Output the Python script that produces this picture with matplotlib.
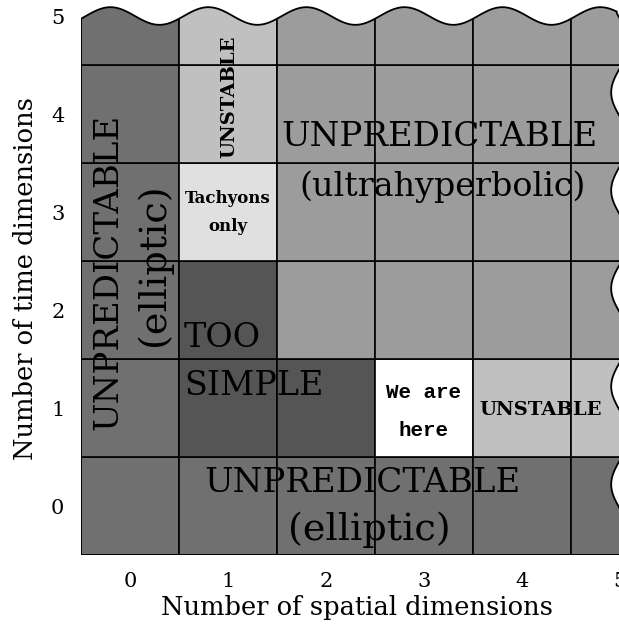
import numpy as np
import matplotlib
matplotlib.use('Agg')
import matplotlib.pyplot as plt
from matplotlib.patches import Rectangle, Polygon

# rows = number of time dimensions (0..5), columns = number of spatial dimensions (0..5)
space_dims = [0, 1, 2, 3, 4, 5]
time_dims = [0, 1, 2, 3, 4, 5]
regions = [
    ['ell', 'ell', 'ell', 'ell', 'ell', 'ell'],   # time 0
    ['ell', 'simple', 'simple', 'here', 'unstable', 'unstable'],   # time 1
    ['ell', 'simple', 'ultra', 'ultra', 'ultra', 'ultra'],   # time 2
    ['ell', 'tachyon', 'ultra', 'ultra', 'ultra', 'ultra'],   # time 3
    ['ell', 'unstable', 'ultra', 'ultra', 'ultra', 'ultra'],   # time 4
    ['ell', 'unstable', 'ultra', 'ultra', 'ultra', 'ultra'],   # time 5
]
region_colors = {
    'ell': '#707070',
    'simple': '#555555',
    'ultra': '#9c9c9c',
    'unstable': '#c0c0c0',
    'tachyon': '#e0e0e0',
    'here': '#ffffff',
}

W, H = 619, 627
fig = plt.figure(figsize=(W / 100, H / 100), dpi=100)
ax = fig.add_axes([81 / W, (H - 555) / H, 588 / W, 588 / H])
ax.set_xlim(-0.5, 5.5)
ax.set_ylim(-0.5, 5.5)
for s in ax.spines.values():
    s.set_visible(False)

# wavy "continues" edges at the top and at the right
ys = np.linspace(-0.5, 5.03, 300)
xr = 5.0 - 0.09 * np.cos(2 * np.pi * (ys - 0.22))
xs = np.linspace(xr[-1], -0.5, 300)
yt = 5.0 + 0.09 * np.cos(2 * np.pi * (xs + 0.2))
outline = [(-0.5, -0.5)] + list(zip(xr, ys)) + list(zip(xs, yt))
clip = Polygon(outline, closed=True, transform=ax.transData, fc='none', ec='none')
ax.add_patch(clip)

for j, t in enumerate(time_dims):
    for i, sp in enumerate(space_dims):
        r = Rectangle((sp - 0.5, t - 0.5), 1, 1, fc=region_colors[regions[j][i]],
                      ec='black', lw=1.2)
        ax.add_patch(r)
        r.set_clip_path(clip)

ax.add_patch(Polygon(outline, closed=True, fc='none', ec='black', lw=1.3))

big = ['DejaVu Serif']
bold = dict(family='DejaVu Serif', weight='bold')
mono = dict(family='Liberation Mono', weight='bold')

ax.text(3.16, 3.77, 'UNPREDICTABLE', fontsize=24.5, family=big, ha='center', va='center')
ax.text(3.19, 3.26, '(ultrahyperbolic)', fontsize=24, family=big, ha='center', va='center')
ax.text(2.37, 0.23, 'UNPREDICTABLE', fontsize=24.5, family=big, ha='center', va='center')
ax.text(2.44, -0.24, '(elliptic)', fontsize=27.5, family=big, ha='center', va='center')
ax.text(-0.22, 2.39, 'UNPREDICTABLE', fontsize=24.5, family=big, ha='center', va='center', rotation=90)
ax.text(0.24, 2.46, '(elliptic)', fontsize=27.5, family=big, ha='center', va='center', rotation=90)
ax.text(0.55, 1.71, 'TOO', fontsize=24, family=big, ha='left', va='center')
ax.text(0.55, 1.22, 'SIMPLE', fontsize=24, family=big, ha='left', va='center')
ax.text(3.0, 1.16, 'We are', fontsize=15, ha='center', va='center', **mono)
ax.text(3.0, 0.77, 'here', fontsize=15, ha='center', va='center', **mono)
ax.text(4.19, 0.98, 'UNSTABLE', fontsize=14, ha='center', va='center', **bold)
ax.text(1.01, 4.18, 'UNSTABLE', fontsize=14, ha='center', va='center', rotation=90, **bold)
ax.text(1.0, 3.14, 'Tachyons', fontsize=12, ha='center', va='center', **bold)
ax.text(1.0, 2.85, 'only', fontsize=12, ha='center', va='center', **bold)

ax.set_xticks(space_dims)
ax.set_yticks(time_dims)
ax.tick_params(length=0, labelsize=15, pad=12)
for lab in ax.get_xticklabels() + ax.get_yticklabels():
    lab.set_family('DejaVu Serif')
ax.set_xlabel('Number of spatial dimensions', fontsize=18.5, family='DejaVu Serif', va='center')
ax.set_ylabel('Number of time dimensions', fontsize=18.5, family='DejaVu Serif', va='center')
ax.xaxis.set_label_coords((357 - 81) / 588, -(608 - 555) / 588)
ax.yaxis.set_label_coords(-(81 - 26) / 588, (555 - 278) / 588)

fig.savefig('out.png', dpi=100)
